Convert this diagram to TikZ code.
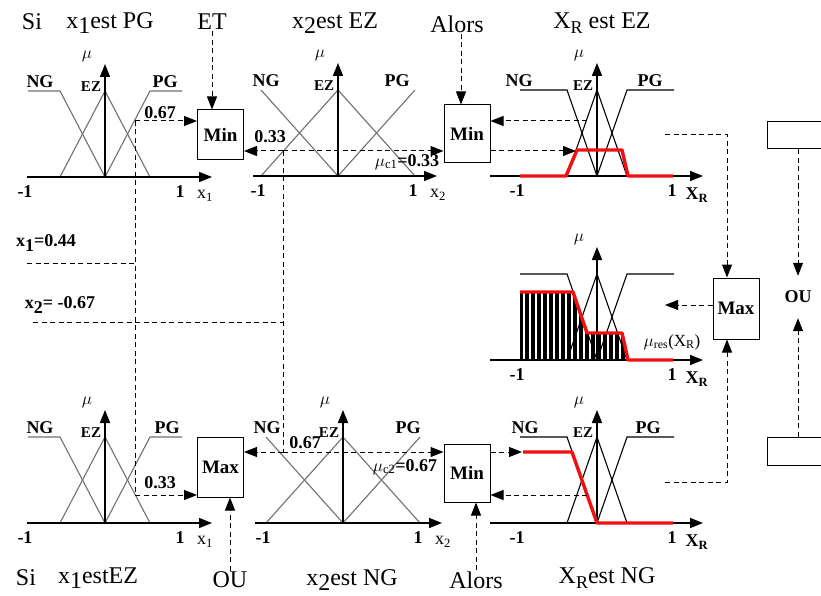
\documentclass[tikz,border=0pt]{standalone}
\usepackage{fontspec}
\setmainfont{Liberation Serif}
\usetikzlibrary{arrows.meta, calc}
\definecolor{mfGray}{HTML}{707070}
\definecolor{curveRed}{HTML}{F01010}

\begin{document}
\begin{tikzpicture}[x=1pt, y=-1pt,
    lbl/.style={font=\bfseries\fontsize{18}{18}\selectfont, inner sep=1pt},
    big/.style={font=\fontsize{24}{24}\selectfont, inner sep=1pt},
    mu/.style={font=\fontsize{19}{19}\selectfont, inner sep=1pt},
    opbox/.style={draw, line width=1pt, minimum width=46pt, minimum height=56pt,
                  font=\bfseries\fontsize{19}{19}\selectfont},
    axis/.style={line width=1.6pt, -{Triangle[length=13pt, width=10pt]}},
    link/.style={line width=1pt, dash pattern=on 5pt off 3.5pt,
                 -{Triangle[length=13pt, width=10pt]}},
    guide/.style={line width=1pt, dash pattern=on 5pt off 3.5pt},
    redcurve/.style={curveRed, line width=3.4pt, line join=round}]
  \useasboundingbox (0,0) rectangle (821,596);

  % hatched result area
  \begin{scope}
    \clip (520,360) -- (520,292) -- (573,292) -- (587,333) -- (622,333) -- (628,360) -- cycle;
    \foreach \x in {521,527,...,629} \draw[line width=4pt] (\x,288) -- (\x,362);
  \end{scope}

  % membership functions and axes
  \foreach \n/\cx/\by/\al/\ar/\ft/\col/\lab in {
      a/105/177/78/107/45/mfGray/{\mdseries x\textsubscript{1}},
      b/338/176/85/99/77/mfGray/{\mdseries x\textsubscript{2}},
      c/597/176/107/106/30/black/{X\textsubscript{R}},
      d/597/360/107/106/30/black/{X\textsubscript{R}},
      e/105/523/78/107/45/mfGray/{\mdseries x\textsubscript{1}},
      f/343/523/88/99/77/mfGray/{\mdseries x\textsubscript{2}},
      g/597/523/107/106/30/black/{X\textsubscript{R}}} {
    \draw[\col, line width=1.1pt] (\cx-77,\by-86) -- (\cx-\ft,\by-86) -- (\cx,\by);
    \draw[\col, line width=1.1pt] (\cx-\ft,\by) -- (\cx,\by-86) -- (\cx+\ft,\by);
    \draw[\col, line width=1.1pt] (\cx,\by) -- (\cx+\ft,\by-86) -- (\cx+77,\by-86);
    \draw[axis] (\cx-\al,\by) -- (\cx+\ar,\by);
    \draw[axis] (\cx,\by) -- (\cx,\by-113);
    \node[mu] (mu\n) at (\cx-18,\by-121) {$\mu$};
    \node[lbl] (lo\n) at (\cx-80,\by+15) {-1};
    \node[lbl] (hi\n) at (\cx+75,\by+15) {1};
    \node[lbl] (var\n) at (\cx+100,\by+19) {\lab};
  }
  \foreach \n/\cx/\by/\ng/\pg in {a/105/177/65/60, b/338/176/72/59, c/597/176/78/53,
                                  e/105/523/65/62, f/343/523/76/65, g/597/523/72/51} {
    \node[lbl] (ng\n) at (\cx-\ng,\by-95) {NG};
    \node[lbl, font=\bfseries\fontsize{15}{15}\selectfont] (ez\n) at (\cx-14,\by-90) {EZ};
    \node[lbl] (pg\n) at (\cx+\pg,\by-95) {PG};
  }

  % clipped and aggregated conclusions
  \draw[redcurve] (520,176) -- (566,176) -- (577,150) -- (622,150) -- (628,176) -- (673,176);
  \draw[redcurve] (520,292) -- (573,292) -- (587,333) -- (622,333) -- (628,360) -- (673,360);
  \draw[redcurve] (523,452) -- (572,452) -- (597,523) -- (673,523);

  % operators
  \node[opbox, minimum height=50pt] (min1) at (220.5,135) {Min};
  \node[opbox, minimum height=58pt] (min2) at (467,134) {Min};
  \node[opbox, minimum height=60pt] (max1) at (220.5,467) {Max};
  \node[opbox, minimum height=58pt] (min3) at (467,473) {Min};
  \node[opbox, minimum height=61pt] (maxr) at (736,308.5) {Max};
  \node[draw, line width=1pt, minimum width=70pt, minimum height=27pt] (orA) at (802,135.5) {};
  \node[draw, line width=1pt, minimum width=70pt, minimum height=28pt] (orB) at (802,451) {};
  \node[lbl, minimum height=42pt] (ou1) at (798,297) {OU};

  % rule texts
  \node[big] (si1) at (32,22) {Si};
  \node[big] (prem1) at (110,23) {x\raisebox{-.45ex}{1}est PG};
  \node[big] (et) at (212,22) {ET};
  \node[big] (prem2) at (335,23) {x\raisebox{-.45ex}{2}est EZ};
  \node[big] (alors1) at (457,24) {Alors};
  \node[big] (conc1) at (602,23) {X\raisebox{-.45ex}{\fontsize{18}{18}\selectfont R} est EZ};
  \node[big] (si2) at (26,578) {Si};
  \node[big] (prem3) at (98,578) {x\raisebox{-.45ex}{1}estEZ};
  \node[big] (ou2) at (230,580) {OU};
  \node[big] (prem4) at (352,580) {x\raisebox{-.45ex}{2}est NG};
  \node[big] (alors2) at (476,580) {Alors};
  \node[big] (conc2) at (607,578) {X\raisebox{-.45ex}{\fontsize{18}{18}\selectfont R}est NG};

  % inputs and degrees
  \node[lbl] (in1) at (46,243) {x\raisebox{-.5ex}{1}=0.44};
  \node[lbl] (in2) at (60,305) {x\raisebox{-.5ex}{2}= -0.67};
  \node[lbl] (v1) at (160,113) {0.67};
  \node[lbl] (v2) at (270,137) {0.33};
  \node[lbl] (v3) at (407,162) {$\mu_{\mathrm{c1}}$=0.33};
  \node[lbl] (v4) at (160,483) {0.33};
  \node[lbl] (v5) at (305,443) {0.67};
  \node[lbl] (v6) at (405,467) {$\mu_{\mathrm{c2}}$=0.67};
  \node[mu, font=\fontsize{17}{17}\selectfont] (res) at (672,342) {$\mu_{\mathrm{res}}$(X\textsubscript{R})};

  \coordinate (p1) at (135,121);
  \coordinate (q1) at (135,495);
  \coordinate (p2) at (283,151);
  \coordinate (q2) at (283,452);
  \coordinate (x1a) at (27,263);
  \coordinate (x2a) at (33,322);
  \coordinate (zTop) at (587,121);
  \coordinate (rTop) at (576,151);
  \coordinate (zBot) at (587,495);
  \coordinate (rBot) at (522,452);
  \coordinate (eTop) at (665,135);
  \coordinate (eMid) at (665,305);
  \coordinate (eBot) at (665,482);
  \coordinate (bus) at (727,308);

  % dashed links
  \draw[guide] (p1) -- (q1);
  \draw[guide] (p2) -- (q2);
  \draw[guide] (x1a) -- (x1a -| p1);
  \draw[guide] (x2a) -- (x2a -| p2);
  \draw[link] (p1) -- (p1 -| min1.west);
  \draw[link] (q1) -- (q1 -| max1.west);
  \draw[link] (p2) -- (p2 -| min1.east);
  \draw[link] (p2) -- (p2 -| min2.west);
  \draw[link] (q2) -- (q2 -| max1.east);
  \draw[link] (q2) -- (q2 -| min3.west);
  \draw[link] (et) -- (et |- min1.north);
  \draw[link] ([xshift=4pt]alors1.south) -- ([xshift=4pt]alors1.south |- min2.north);
  \draw[link] (ou2) -- (ou2 |- max1.south);
  \draw[link] (alors2) -- (alors2 |- min3.south);
  \draw[link] (zTop) -- (zTop -| min2.east);
  \draw[link] (rTop -| min2.east) -- (rTop);
  \draw[link] (zBot) -- (zBot -| min3.east);
  \draw[link] (rBot -| min3.east) -- (rBot);
  \draw[link] (eTop) -- (eTop -| bus) -- (bus |- maxr.north);
  \draw[link] (eBot) -- (eBot -| bus) -- (bus |- maxr.south);
  \draw[link] (maxr.west |- eMid) -- (eMid);
  \draw[link] (orA.south -| ou1) -- (ou1.north);
  \draw[link] (orB.north -| ou1) -- (ou1.south);
\end{tikzpicture}
\end{document}
